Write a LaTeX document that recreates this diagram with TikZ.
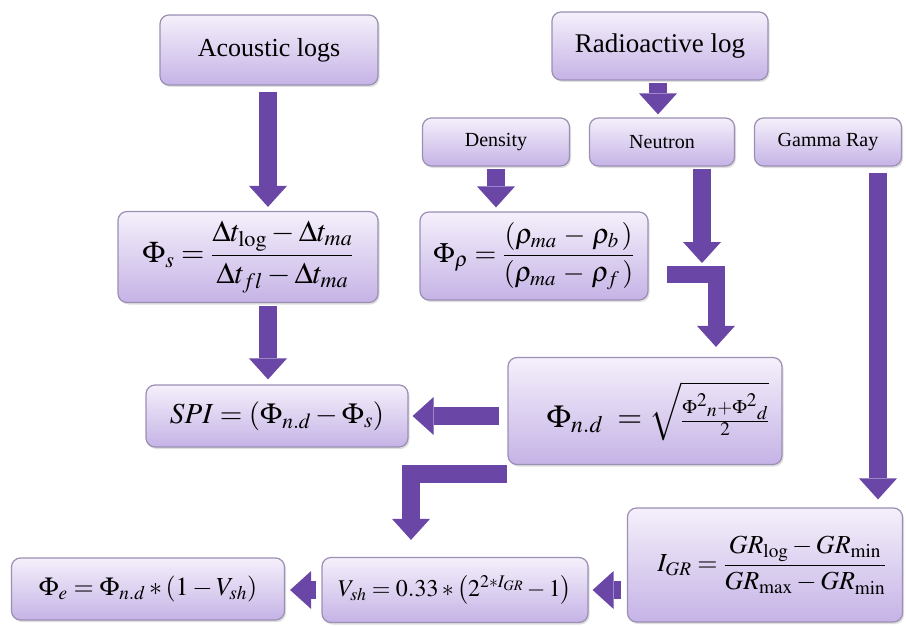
\documentclass[tikz,border=0pt]{standalone}
\usepackage{mathptmx}
\usepackage{fontspec}
\setmainfont{Liberation Serif}
\usetikzlibrary{arrows.meta,shadows,calc}
\definecolor{boxtop}{HTML}{F5F0FB}
\definecolor{boxbot}{HTML}{C5B3E6}
\definecolor{boxline}{HTML}{9B8FB3}
\definecolor{arrc}{HTML}{6A47A6}
\tikzset{
  box/.style={rectangle, rounded corners=9pt, draw=boxline, line width=1.2pt,
    top color=boxtop, bottom color=boxbot, align=center, inner sep=0pt,
    drop shadow={shadow xshift=1.5pt, shadow yshift=-2pt, opacity=0.25}},
  bigarr/.style={draw=arrc, line width=18pt, line join=miter, line cap=butt,
    -{Triangle[width=38pt,length=21pt,line width=0pt]}},
  fsA/.style={font=\fontsize{26}{30}\selectfont},
  fsB/.style={font=\fontsize{20}{24}\selectfont},
}
\begin{document}
\begin{tikzpicture}[x=1pt,y=-1pt]
\useasboundingbox (0,0) rectangle (906,626);
% nodes
\node[box, fsA, minimum width=218pt, minimum height=70pt] (acou) at (269,50) {Acoustic logs};
\node[box, font=\fontsize{27}{30}\selectfont, minimum width=216pt, minimum height=68pt] (radio) at (660,46) {Radioactive log};
\node[box, fsB, minimum width=147pt, minimum height=48pt] (dens) at (496,142) {Density};
\node[box, fsB, minimum width=145pt, minimum height=48pt] (neut) at (662,142) {Neutron};
\node[box, fsB, minimum width=147pt, minimum height=48pt] (gamma) at (828,142) {Gamma Ray};
\node[box, font=\fontsize{30}{34}\selectfont, minimum width=260pt, minimum height=91pt] (phis) at (248,257)
  {$\displaystyle \Phi_{s}=\frac{\Delta t_{\log}-\Delta t_{ma}}{\Delta t_{fl}-\Delta t_{ma}}$};
\node[box, font=\fontsize{28}{33}\selectfont, minimum width=228pt, minimum height=88pt] (phir) at (534,256)
  {$\displaystyle \Phi_{\rho}=\frac{(\rho_{ma}\,-\,\rho_{b}\,)}{(\rho_{ma}\,-\,\rho_{f}\,)}$};
\node[box, font=\fontsize{29}{33}\selectfont, minimum width=262pt, minimum height=62pt] (spi) at (277,416)
  {$SPI=(\Phi_{n.d}-\Phi_{s})$};
\node[box, font=\fontsize{32}{36}\selectfont, minimum width=274pt, minimum height=107pt] (phind) at (645,411)
  {\hspace*{26pt}$\displaystyle \Phi_{n.d}\;=\sqrt{\scriptstyle\frac{\Phi^{2}{}_{n}+\Phi^{2}{}_{d}}{2}}$};
\node[box, fsA, minimum width=275pt, minimum height=114pt] (igr) at (765,565)
  {\hspace*{14pt}$\displaystyle I_{GR}=\frac{GR_{\log}-GR_{\min}}{GR_{\max}-GR_{\min}}$};
\node[box, font=\fontsize{24}{28}\selectfont, minimum width=266pt, minimum height=65pt] (vsh) at (455,590)
  {$V_{sh}=0.33*\left(2^{2*I_{GR}}-1\right)$};
\node[box, font=\fontsize{26}{30}\selectfont, minimum width=273pt, minimum height=62pt] (phie) at (148,589)
  {$\Phi_{e}=\Phi_{n.d}*\left(1-V_{sh}\right)$};
% helper coordinates
\coordinate (ax) at (268,0);
\coordinate (ntip) at (702,263);
\coordinate (nbar) at (667,274);
\coordinate (nturn) at (716,274);
\coordinate (gx) at (878,0);
\coordinate (bend2) at (411,474);
% arrows
\draw[bigarr, shorten <=6pt, shorten >=4pt] (ax |- acou.south) -- (ax |- phis.north);
\draw[bigarr, shorten <=2pt, shorten >=3pt] ([xshift=-2pt]radio.south) -- ([xshift=-2pt]radio.south |- neut.north);
\draw[bigarr, shorten <=2pt, shorten >=4pt] (dens.south) -- (dens.south |- phir.north);
\draw[bigarr, shorten <=2pt] (ntip |- neut.south) -- (ntip);
\draw[bigarr, line width=17pt, shorten >=10pt] (nbar) -- (nturn) -- (nturn |- phind.north);
\draw[bigarr, shorten <=3pt, shorten >=5pt] (ax |- phis.south) -- (ax |- spi.north);
\draw[bigarr, shorten <=8pt, shorten >=4pt] (phind.west |- spi.east) -- (spi.east);
\draw[bigarr, shorten >=17pt] (phind.south west |- bend2) -- (bend2) -- (bend2 |- vsh.north);
\draw[bigarr, shorten <=6pt, shorten >=8pt] (gx |- gamma.south) -- (gx |- igr.north);
\draw[bigarr, shorten <=6pt, shorten >=4pt] (igr.west |- vsh.east) -- (vsh.east);
\draw[bigarr, shorten <=5pt, shorten >=5pt] (vsh.west) -- (vsh.west -| phie.east);
\end{tikzpicture}
\end{document}
